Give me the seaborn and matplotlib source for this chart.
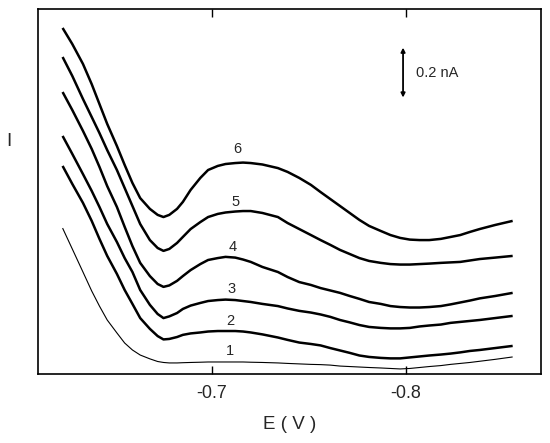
import numpy as np
import pandas as pd
import matplotlib
matplotlib.use("Agg")
import matplotlib.pyplot as plt
import seaborn as sns

# potential grid (V), shared by all curves
potential = [-0.623, -0.628, -0.6335, -0.638, -0.642, -0.646, -0.651, -0.655,
             -0.659, -0.663, -0.668, -0.672, -0.675, -0.678, -0.682, -0.685,
             -0.689, -0.694, -0.698, -0.703, -0.707, -0.712, -0.716, -0.720,
             -0.726, -0.734, -0.739, -0.745, -0.751, -0.756, -0.761, -0.766,
             -0.771, -0.776, -0.781, -0.787, -0.792, -0.797, -0.802, -0.807,
             -0.812, -0.818, -0.823, -0.828, -0.833, -0.838, -0.846, -0.855]

# current readings (nA, arbitrary offset) for curves 1..6
curve1 = [0.608, 0.521, 0.425, 0.346, 0.283, 0.225, 0.171, 0.129, 0.100, 0.079,
          0.063, 0.052, 0.048, 0.046, 0.046, 0.047, 0.048, 0.049, 0.050, 0.050,
          0.050, 0.050, 0.050, 0.049, 0.048, 0.046, 0.044, 0.042, 0.040, 0.039,
          0.037, 0.033, 0.031, 0.029, 0.027, 0.025, 0.023, 0.021, 0.023, 0.027,
          0.031, 0.035, 0.040, 0.044, 0.048, 0.053, 0.061, 0.071]
curve2 = [0.867, 0.792, 0.713, 0.638, 0.563, 0.492, 0.417, 0.350, 0.292, 0.233,
          0.188, 0.158, 0.144, 0.146, 0.154, 0.163, 0.169, 0.173, 0.177, 0.179,
          0.179, 0.179, 0.177, 0.173, 0.165, 0.152, 0.142, 0.131, 0.125, 0.119,
          0.108, 0.098, 0.088, 0.077, 0.071, 0.067, 0.065, 0.065, 0.069, 0.073,
          0.077, 0.081, 0.085, 0.090, 0.096, 0.100, 0.108, 0.117]
curve3 = [0.992, 0.917, 0.833, 0.763, 0.696, 0.625, 0.550, 0.483, 0.425, 0.350,
          0.288, 0.250, 0.233, 0.240, 0.254, 0.271, 0.285, 0.296, 0.304, 0.308,
          0.310, 0.308, 0.304, 0.300, 0.292, 0.283, 0.273, 0.263, 0.256, 0.248,
          0.238, 0.225, 0.215, 0.204, 0.196, 0.192, 0.190, 0.190, 0.192, 0.198,
          0.202, 0.206, 0.213, 0.217, 0.221, 0.225, 0.233, 0.242]
curve4 = [1.175, 1.100, 1.013, 0.938, 0.863, 0.783, 0.696, 0.613, 0.533, 0.463,
          0.408, 0.375, 0.363, 0.369, 0.388, 0.408, 0.433, 0.458, 0.475, 0.483,
          0.488, 0.485, 0.477, 0.467, 0.446, 0.425, 0.404, 0.383, 0.371, 0.358,
          0.348, 0.338, 0.325, 0.313, 0.300, 0.292, 0.283, 0.279, 0.277, 0.277,
          0.279, 0.283, 0.290, 0.298, 0.306, 0.315, 0.325, 0.338]
curve5 = [1.321, 1.242, 1.146, 1.071, 1.004, 0.933, 0.850, 0.775, 0.700, 0.625,
          0.558, 0.525, 0.513, 0.521, 0.546, 0.571, 0.604, 0.633, 0.654, 0.667,
          0.673, 0.677, 0.679, 0.679, 0.671, 0.654, 0.629, 0.604, 0.579, 0.558,
          0.538, 0.517, 0.500, 0.483, 0.471, 0.463, 0.458, 0.456, 0.456, 0.458,
          0.460, 0.463, 0.465, 0.467, 0.473, 0.479, 0.485, 0.492]
curve6 = [1.442, 1.375, 1.292, 1.208, 1.125, 1.042, 0.950, 0.871, 0.796, 0.733,
          0.688, 0.663, 0.654, 0.663, 0.688, 0.717, 0.767, 0.817, 0.850, 0.867,
          0.875, 0.879, 0.881, 0.879, 0.873, 0.858, 0.842, 0.817, 0.788, 0.758,
          0.729, 0.700, 0.671, 0.642, 0.617, 0.596, 0.579, 0.567, 0.560, 0.558,
          0.558, 0.563, 0.571, 0.579, 0.592, 0.604, 0.621, 0.638]

curve_names = ["1", "2", "3", "4", "5", "6"]
curves = [curve1, curve2, curve3, curve4, curve5, curve6]

# where the curve numbers sit (E, I)
label_pos = [(-0.7093, 0.096), (-0.7093, 0.221), (-0.7103, 0.354),
             (-0.7108, 0.529), (-0.7119, 0.717), (-0.7129, 0.9375)]

sns.set_style("white")
plt.rcParams['font.family'] = ['Liberation Sans', 'DejaVu Sans']

fig = plt.figure(figsize=(5.5, 4.43), dpi=100)
ax = fig.add_axes([0.069, 0.1558, 0.9146, 0.8239])

for name, vals in zip(curve_names, curves):
    df = pd.DataFrame({"E": potential, "I": vals})
    lw = 0.8 if name == "1" else 1.8
    sns.lineplot(data=df, x="E", y="I", sort=False, color="black", lw=lw,
                 ax=ax, solid_joinstyle="round", solid_capstyle="butt")

for name, (ex, iy) in zip(curve_names, label_pos):
    ax.text(ex, iy, name, ha="center", va="center", fontsize=10.5)

# 0.2 nA scale bar
ax.annotate("", xy=(-0.7985, 1.360), xytext=(-0.7985, 1.152),
            arrowprops=dict(arrowstyle="<|-|>", color="black", lw=1.3,
                            mutation_scale=6, shrinkA=0, shrinkB=0))
ax.text(-0.8050, 1.256, "0.2 nA", ha="left", va="center", fontsize=10.5)

ax.set_xlim(-0.6103, -0.8696)
ax.set_ylim(0, 1.521)
ax.set_xticks([-0.7, -0.8])
ax.set_xticklabels(["-0.7", "-0.8"])
ax.set_yticks([])
ax.tick_params(axis="x", direction="in", length=6, width=1, top=True,
               bottom=True, labelsize=13, pad=8, color="black")
for sp in ax.spines.values():
    sp.set_color("black")
    sp.set_linewidth(1.2)

ax.set_xlabel("E ( V )", fontsize=13.5, labelpad=10)
ax.set_ylabel("")
fig.text(8.5 / 550, 1 - 142 / 443, "I", ha="center", va="center", fontsize=13.5)

fig.savefig("out.png", dpi=100)
